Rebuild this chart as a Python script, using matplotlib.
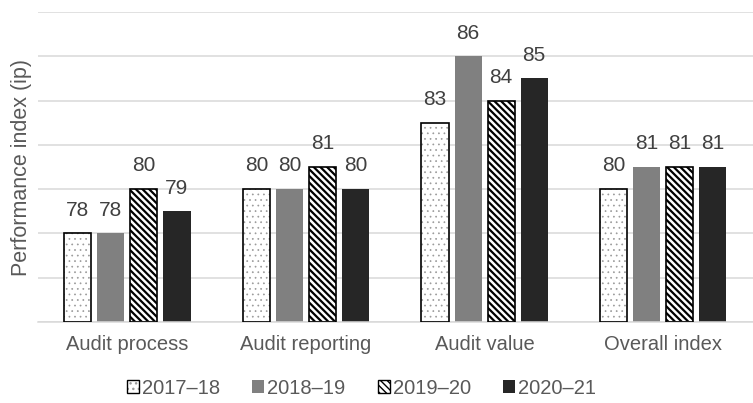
import numpy as np
import matplotlib as mpl
import matplotlib.pyplot as plt
from matplotlib.patches import Patch

plt.rcParams["font.family"] = ["Liberation Sans", "DejaVu Sans"]

categories = ["Audit process", "Audit reporting", "Audit value", "Overall index"]
years = ["2017\u201318", "2018\u201319", "2019\u201320", "2020\u201321"]
v1718 = [78, 80, 83, 80]
v1819 = [78, 80, 86, 81]
v1920 = [80, 81, 84, 81]
v2021 = [79, 80, 85, 81]
series = [v1718, v1819, v1920, v2021]

# fill, hatch, hatch colour, hatch width, outline per series
styles = [
    ("white", "...", "#9a9a9a", 0.5, "black"),
    ("#808080", None, None, None, "none"),
    ("white", "\\\\\\\\\\", "black", 1.6, "black"),
    ("#262626", None, None, None, "none"),
]

fig = plt.figure(figsize=(7.53, 4.03), dpi=100)
ax = fig.add_axes([0.0505, 0.201, 0.949, 0.769])

x = np.arange(len(categories))
step = 0.185
width = 0.152
base = 74

for i, (vals, (fc, hatch, hc, hlw, ec)) in enumerate(zip(series, styles)):
    pos = x + (i - 1.5) * step
    heights = np.array(vals) - base
    if hatch:
        with mpl.rc_context({"hatch.linewidth": hlw}):
            ax.bar(pos, heights, width, bottom=base, color=fc, hatch=hatch,
                   edgecolor=hc, linewidth=0, zorder=2)
        ax.bar(pos, heights, width, bottom=base, fill=False,
               edgecolor=ec, linewidth=1.2, zorder=3)
    else:
        ax.bar(pos, heights, width, bottom=base, color=fc, linewidth=0, zorder=2)
    for p, v in zip(pos, vals):
        ax.text(p, v + 0.62, f"{v}", ha="center", va="bottom",
                fontsize=15, color="#404040")

ax.set_xlim(-0.5, len(categories) - 0.5)
ax.set_ylim(base, 88)
ax.set_yticks(np.arange(base, 89, 2))
ax.yaxis.grid(True, color="#d9d9d9", linewidth=1.1, zorder=0)
ax.set_axisbelow(True)
ax.tick_params(axis="y", left=False, labelleft=False)
ax.tick_params(axis="x", bottom=False, labelsize=14.5, labelcolor="#595959", pad=6)
ax.set_xticks(x)
ax.set_xticklabels(categories)
for side in ["top", "right", "left"]:
    ax.spines[side].set_visible(False)
ax.spines["bottom"].set_color("#d9d9d9")
ax.spines["bottom"].set_linewidth(1.1)

ax.set_ylabel("Performance index (ip)", fontsize=15.5, color="#595959")
ax.yaxis.set_label_coords(-0.009, 0.5)

# legend swatches: hatched fill under a separate black outline
handles = []
for fc, hatch, hc, hlw, ec in styles:
    if hatch:
        with mpl.rc_context({"hatch.linewidth": hlw}):
            fill = Patch(facecolor=fc, hatch=hatch, edgecolor=hc, linewidth=0)
        handles.append((fill, Patch(fill=False, edgecolor=ec, linewidth=1.0)))
    else:
        handles.append(Patch(facecolor=fc, edgecolor="none"))
leg = fig.legend(handles, years, loc="center", bbox_to_anchor=(0.48, 0.037),
                 ncol=4, frameon=False, fontsize=14.5, handlelength=0.6,
                 handleheight=0.6, handletextpad=0.15, columnspacing=1.6)
for t in leg.get_texts():
    t.set_color("#595959")

fig.savefig("out.png", dpi=100, facecolor="white")
